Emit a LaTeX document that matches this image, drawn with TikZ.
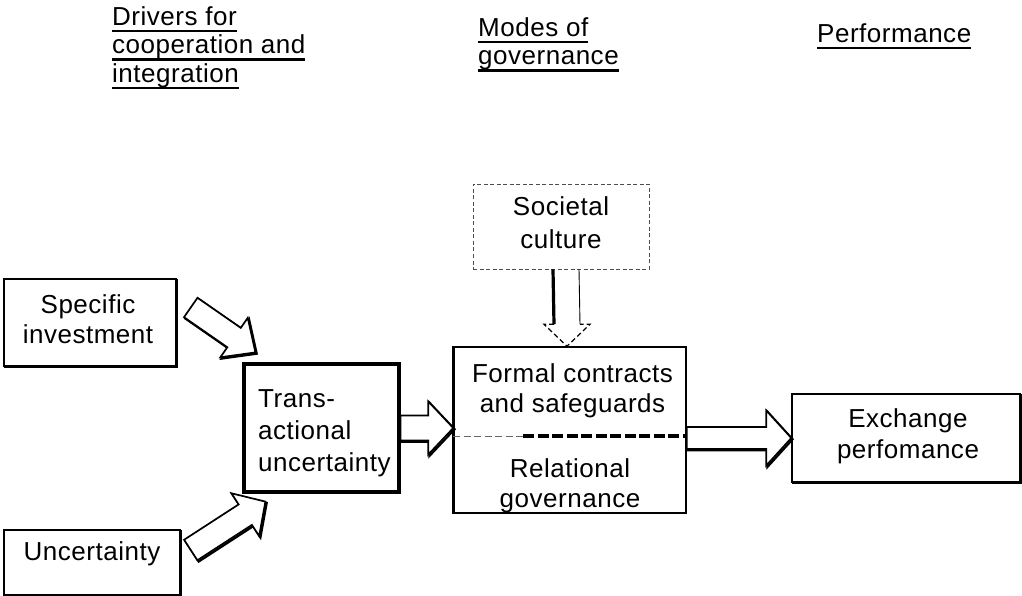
\documentclass[tikz,border=0pt]{standalone}
\usepackage{fontspec}
\setmainfont{Liberation Sans}[LetterSpace=2]
\usetikzlibrary{calc}
\newcommand\myul[1]{\setbox0\hbox{#1}\rlap{\rule[-7pt]{\wd0}{2.2pt}}\box0}
\newcommand\blockarr[6][]{%
  \path coordinate (ba-h) at ($(#3)!#5pt!(#2)$);
  \draw[barrow,#1] ($(#2)!#4pt!-90:(#3)$) -- ($(ba-h)!#4pt!-90:(#3)$) -- ($(ba-h)!#6pt!-90:(#3)$) -- (#3) -- ($(ba-h)!#6pt!90:(#3)$) -- ($(ba-h)!#4pt!90:(#3)$) -- ($(#2)!#4pt!90:(#3)$) -- cycle;}
\begin{document}
\begin{tikzpicture}[x=1pt,y=-1pt,
  shadowed/.style={preaction={draw, line width=2.2pt, line join=miter, transform canvas={shift={(1.3pt,-1.3pt)}}}},
  box/.style={draw, fill=white, line width=1.5pt, inner sep=0pt},
  sbox/.style={box, shadowed},
  barrow/.style={fill=white, line width=1.7pt, line join=miter, shadowed},
  txt/.style={inner sep=0pt, align=center, anchor=north, font=\fontsize{26}{30}\selectfont},
  head/.style={inner sep=0pt, align=left, anchor=north west, font=\fontsize{26}{28.5}\selectfont}]
\useasboundingbox (0,0) rectangle (1022,596);

% headers
\node[head] (h1) at (112,6) {\myul{Drivers for}\\\myul{cooperation and}\\\myul{integration}};
\node[head] (h2) at (478,17) {\myul{Modes of}\\\myul{governance}};
\node[head] (h3) at (817,23) {\myul{Performance}};

% boxes
\node[sbox, minimum width=172, minimum height=87] (spec) at (90,322.5) {};
\node[sbox, minimum width=176, minimum height=65] (unc) at (92,562.5) {};
\node[box, line width=3.2pt, minimum width=155, minimum height=128] (trans) at (321.5,428) {};
\node[box, draw=black!70, line width=0.9pt, dash pattern=on 4pt off 2.5pt, minimum width=176, minimum height=85] (soc) at (561,226.5) {};
\node[box, minimum width=232, minimum height=166] (form) at (570,430) {};
\node[sbox, minimum width=228, minimum height=88] (exch) at (906,438) {};
\draw[line width=3.2pt] (form.north west) -- (form.south west);

% divider in governance box
\coordinate (dl) at ($(form.west)+(0,6)$);
\coordinate (dm) at ($(form.west)+(70,6)$);
\coordinate (dr) at ($(form.east)+(0,6)$);
\draw[black!60, line width=0.9pt, dash pattern=on 7pt off 3.5pt] (dl) -- (dm);
\draw[line width=3.2pt, dash pattern=on 11pt off 3.5pt] (dm) -- (dr);

% texts
\node[txt] (spectext) at (88,294) {Specific\\investment};
\node[txt] (unctext) at (92,541.5) {Uncertainty};
\node[txt, align=left, anchor=north west, font=\fontsize{26}{32}\selectfont] (transtext) at (258,389.5) {Trans-\\actional\\uncertainty};
\node[txt, font=\fontsize{26}{33}\selectfont] (soctext) at (561,196) {Societal\\culture};
\node[txt] (formtext) at (572.5,363) {Formal contracts\\and safeguards};
\node[txt] (reltext) at (570,458) {Relational\\governance};
\node[txt, font=\fontsize{26}{31}\selectfont] (exchtext) at (908,408) {Exchange\\perfomance};

% block arrows
\coordinate (a1t) at ($(spec.east)+(14,-15)$);
\coordinate (a1h) at ($(trans.north west)+(13,-10)$);
\blockarr{a1t}{a1h}{11.8}{26}{24}
\coordinate (a2t) at ($(unc.east)+(10,-12.5)$);
\coordinate (a2h) at ($(trans.south west)+(23,8)$);
\blockarr{a2t}{a2h}{12.2}{24}{25.5}
\coordinate (a3h) at (trans.east -| form.west);
\blockarr{trans.east}{a3h}{12.5}{25}{26.5}
\coordinate (a4t) at (exch.west -| form.east);
\blockarr{a4t}{exch.west}{11}{25}{27.5}

% societal culture arrow
\coordinate (sca) at ($(soc.south)+(5,0)$);
\coordinate (scb) at ($(form.north)+(-3,0)$);
\draw[line width=3.2pt] ($(sca)+(-13,0)$) -- ($(scb)+(-13,-22)$);
\draw[line width=0.9pt] ($(sca)+(13,0)$) -- ($(scb)+(13,-22)$);
\draw[line width=1.2pt, dash pattern=on 5pt off 3pt] ($(scb)+(-13,-22)$) -- ($(scb)+(-23,-22)$) -- (scb) -- ($(scb)+(23,-22)$) -- ($(scb)+(13,-22)$);
\end{tikzpicture}
\end{document}
